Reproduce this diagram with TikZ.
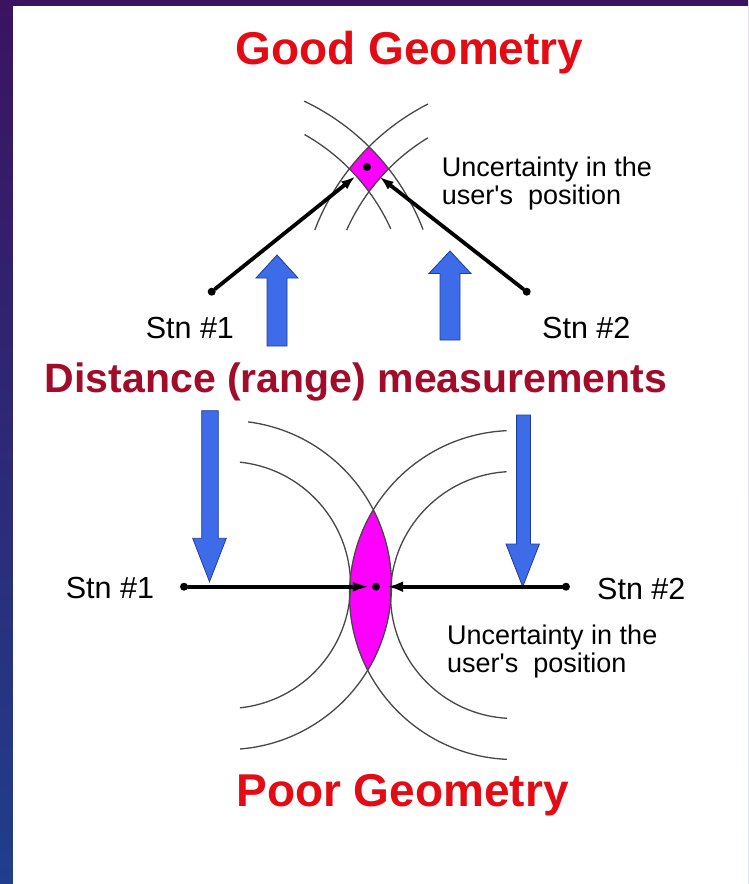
\documentclass[tikz,border=0pt]{standalone}
\usepackage{fontspec}
\setmainfont{Liberation Sans}
\usetikzlibrary{arrows.meta}
\definecolor{titlered}{RGB}{228,12,20}
\definecolor{midred}{RGB}{160,12,42}
\definecolor{arrowblue}{RGB}{62,108,232}
\definecolor{arrowedge}{RGB}{30,60,160}
\definecolor{lensmag}{RGB}{255,0,255}
\definecolor{bgpurple}{RGB}{58,20,96}
\definecolor{bgblue}{RGB}{32,62,140}
\begin{document}
\begin{tikzpicture}[x=1pt,y=1pt,
  arcline/.style={line width=1.3pt, draw=black!72},
  rangeline/.style={line width=3.8pt, line cap=round},
  dotnode/.style={circle, fill=black, inner sep=0pt, minimum size=8pt},
  blockarrow/.style={fill=arrowblue, draw=arrowedge, line width=0.8pt, line join=miter},
  titletext/.style={font=\fontsize{46}{50}\selectfont\bfseries, text=titlered, inner sep=0pt, anchor=base},
  midtext/.style={font=\fontsize{41}{44}\selectfont\bfseries, text=midred, inner sep=0pt, anchor=base},
  stnlabel/.style={font=\fontsize{30.5}{34}\selectfont, inner sep=0pt, anchor=base west},
  captext/.style={font=\fontsize{27}{28}\selectfont, inner sep=0pt, anchor=north west, align=left}
]
\useasboundingbox (0,0) rectangle (748,-884);
% background
\shade[top color=bgpurple, bottom color=bgblue] (0,0) rectangle (748,-884);
\fill[white] (13,-6) rectangle (748,-884);

% ---------- top: good geometry ----------
\coordinate (A1) at (203,-314);
\coordinate (A2) at (535,-314);
\begin{scope}
  \clip (328,-132) rectangle (410,-208);
  \clip (A1) circle (235.7);
  \clip (A2) circle (235.7);
  \fill[lensmag] (A1) circle (235.7);
  \fill[white] (A1) circle (206.2);
  \fill[white] (A2) circle (206.2);
\end{scope}
\draw[arcline] (A1) ++(64.6:235.7) arc[start angle=64.6, end angle=21, radius=235.7];
\draw[arcline] (A1) ++(60.5:206.2) arc[start angle=60.5, end angle=24.4, radius=206.2];
\draw[arcline] (A2) ++(117:235.7) arc[start angle=117, end angle=159.1, radius=235.7];
\draw[arcline] (A2) ++(121.3:206.2) arc[start angle=121.3, end angle=156, radius=206.2];

\node[dotnode] (ts1) at (211.7,-291.7) {};
\node[dotnode] (ts2) at (526.7,-291.7) {};
\node[dotnode] (tc) at (367,-167) {};
\draw[rangeline, -{Latex[length=14pt,width=10pt]}, shorten >=11pt] (ts1) -- (tc);
\draw[rangeline, -{Latex[length=14pt,width=10pt]}, shorten >=12pt] (ts2) -- (tc);

% blue arrows (up)
\draw[blockarrow] (267,-346) -- (267,-278) -- (256,-278) -- (277,-255) -- (298,-278) -- (287,-278) -- (287,-346) -- cycle;
\draw[blockarrow] (440,-340) -- (440,-273.5) -- (429,-273.5) -- (450,-251) -- (471,-273.5) -- (460,-273.5) -- (460,-340) -- cycle;

% ---------- bottom: poor geometry ----------
\coordinate (C1) at (227,-585);
\coordinate (C2) at (514,-595);
\begin{scope}
  \clip (C1) circle (164.5);
  \clip (C2) circle (164.5);
  \fill[lensmag] (C1) circle (164.5);
  \fill[white] (C1) circle (123.5);
  \fill[white] (C2) circle (123.5);
\end{scope}
\draw[arcline] (C1) ++(82.6:164.5) arc[start angle=82.6, end angle=-85.4, radius=164.5];
\draw[arcline] (C1) ++(84:123.5) arc[start angle=84, end angle=-84, radius=123.5];
\draw[arcline] (C2) ++(92.6:164.5) arc[start angle=92.6, end angle=267.5, radius=164.5];
\draw[arcline] (C2) ++(93.4:123.5) arc[start angle=93.4, end angle=266.7, radius=123.5];

% blue arrows (down)
\draw[blockarrow] (201.7,-410.7) -- (201.7,-538.3) -- (192.7,-538.3) -- (209.5,-581.7) -- (226.3,-538.3) -- (218.3,-538.3) -- (218.3,-410.7) -- cycle;
\draw[blockarrow] (516.5,-415) -- (516.5,-544) -- (506,-544) -- (522.7,-586.7) -- (539.4,-544) -- (530.5,-544) -- (530.5,-415) -- cycle;

\node[dotnode] (bs1) at (184,-586.7) {};
\node[dotnode] (bs2) at (566,-586.7) {};
\node[dotnode] (bc) at (376,-586.7) {};
\draw[rangeline, -{Latex[length=18pt,width=10pt]}, shorten >=1pt] (bs1) -- (bc);
\draw[rangeline, -{Latex[length=16pt,width=11pt]}, shorten >=7pt] (bs2) -- (bc);

% ---------- texts ----------
\node[titletext] (good) at (409.5,-64.6) {Good Geometry};
\node[titletext] (poor) at (402.5,-806.8) {Poor Geometry};
\node[midtext] (dist) at (356,-392.5) {Distance (range) measurements};
\node[stnlabel] (tl1) at (145.6,-338) {Stn \#1};
\node[stnlabel] (tl2) at (542,-338) {Stn \#2};
\node[stnlabel] (bl1) at (65.7,-598) {Stn \#1};
\node[stnlabel] (bl2) at (597,-599) {Stn \#2};
\node[captext] (tcap) at (441.7,-156.7) {Uncertainty in the\\user\textquotesingle s\ \ position};
\node[captext] (bcap) at (447,-625) {Uncertainty in the\\user\textquotesingle s\ \ position};
\end{tikzpicture}
\end{document}
